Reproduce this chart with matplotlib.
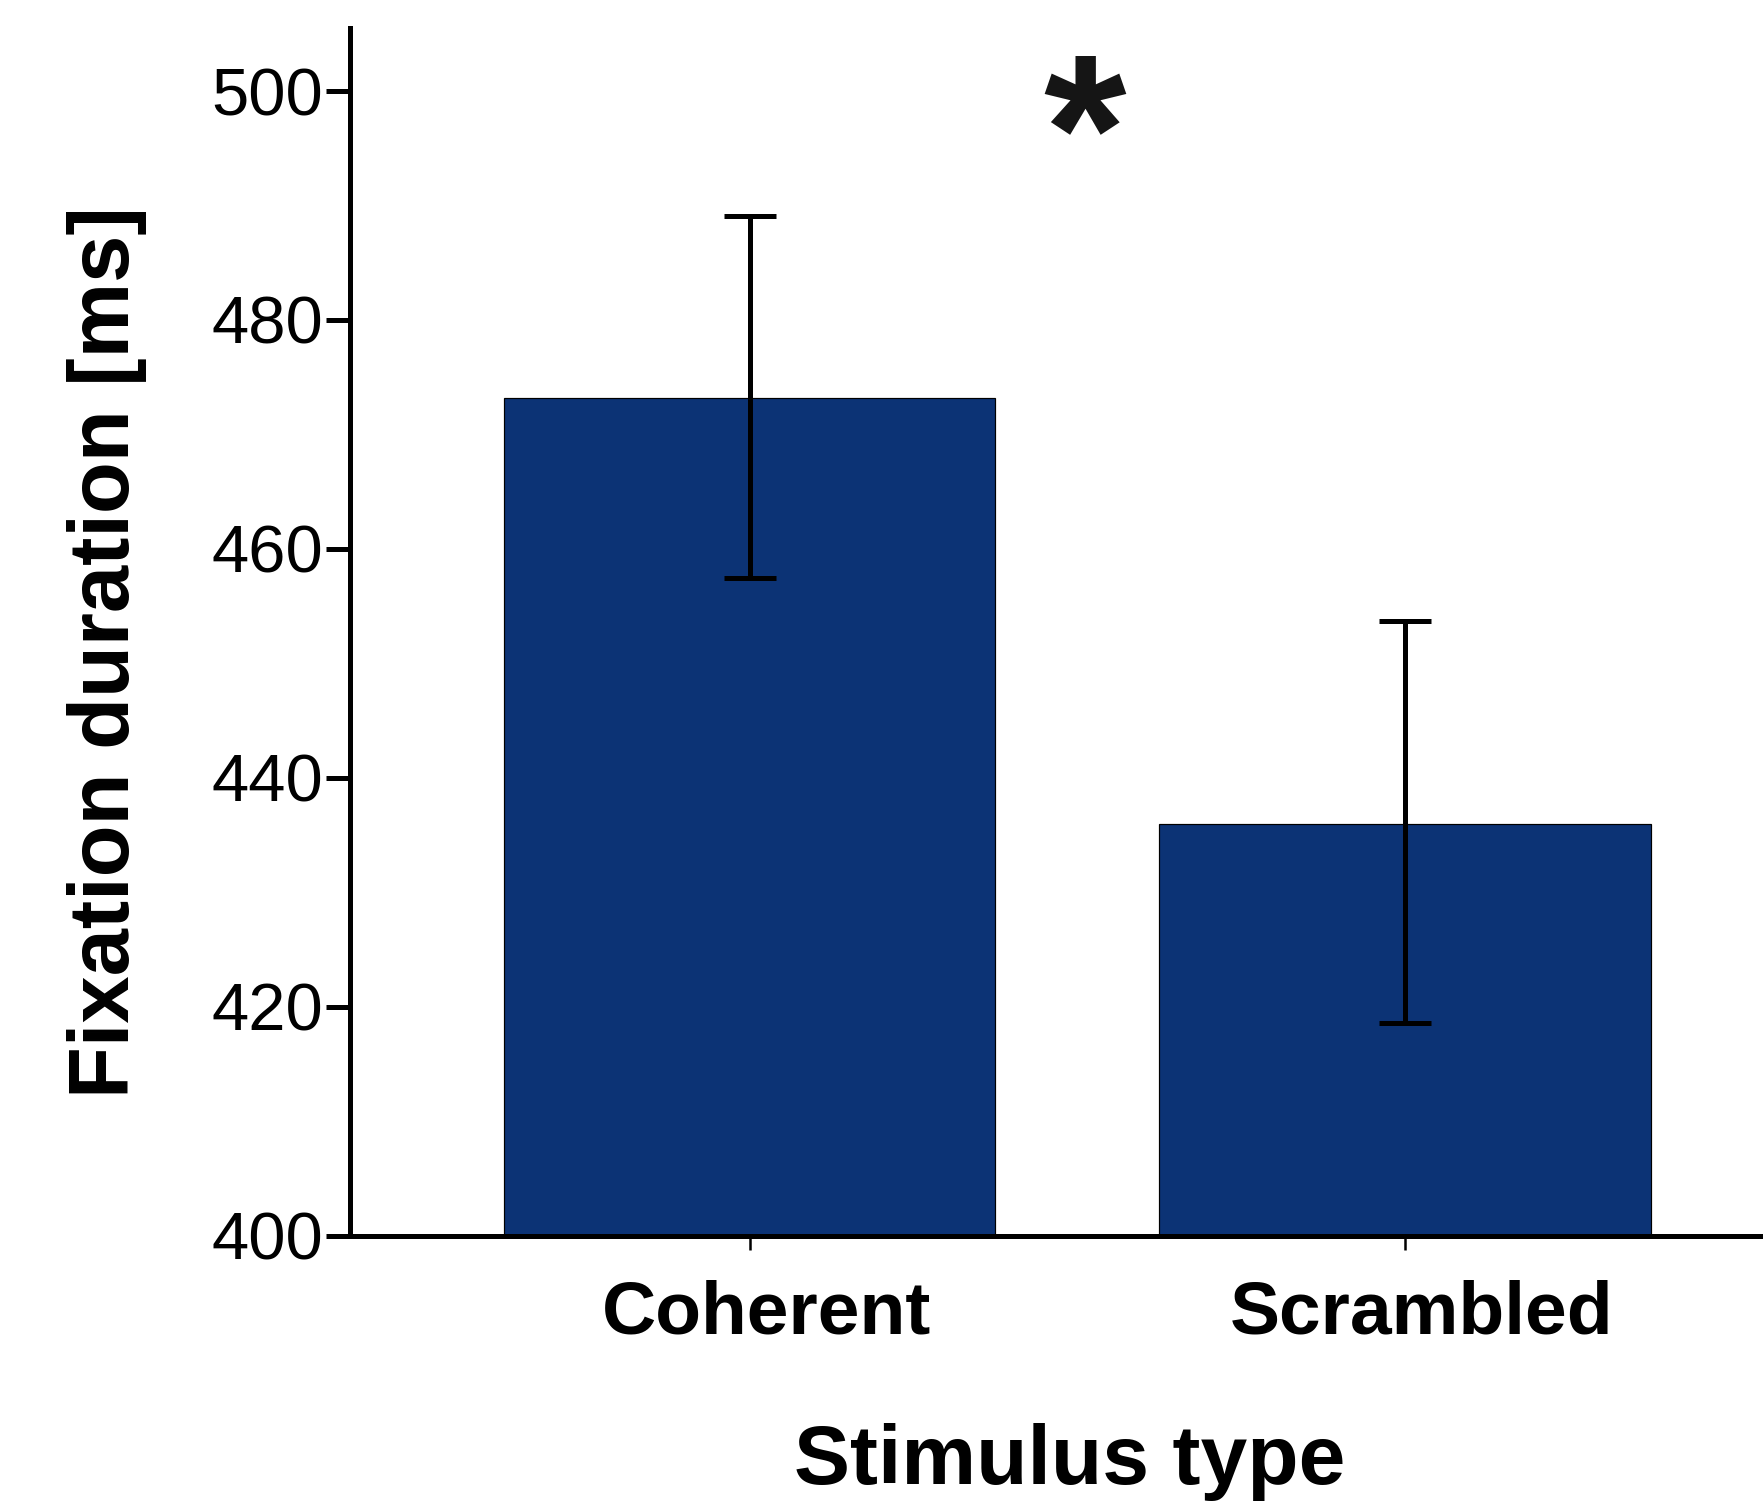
import matplotlib
matplotlib.use("Agg")
import matplotlib.pyplot as plt
from matplotlib.transforms import ScaledTranslation

plt.rcParams["font.family"] = ["Liberation Sans", "DejaVu Sans"]

# data
conditions = ["Coherent", "Scrambled"]
mean_ms = [473.2, 436.0]
err_low = [457.5, 418.6]
err_high = [489.1, 453.7]

bar_color = "#0c3375"

DPI = 72
fig = plt.figure(figsize=(1763 / DPI, 1502 / DPI), dpi=DPI)
ax = fig.add_axes([0.1984, 0.1773, 0.8215, 0.804])

xpos = [1, 2]
lower = [m - lo for m, lo in zip(mean_ms, err_low)]
upper = [hi - m for m, hi in zip(mean_ms, err_high)]

ax.bar(xpos, mean_ms, width=0.75, color=bar_color, edgecolor="black",
       linewidth=1.2, zorder=2)
ax.errorbar(xpos, mean_ms, yerr=[lower, upper], fmt="none", ecolor="black",
            elinewidth=5, capsize=26, capthick=5, zorder=3)

# significance marker
ax.text(1.511, 495.2, "*", ha="center", va="center", fontsize=212,
        fontweight="bold", color="#151515", zorder=4)

ax.set_xlim(0.39, 2.6)
ax.set_ylim(400, 505.5)
ax.set_yticks(range(400, 501, 20))
ax.set_xticks(xpos)
ax.set_xticklabels(conditions, fontsize=75, fontweight="bold")
ax.tick_params(axis="y", labelsize=67, length=24, width=5, pad=3)
ax.tick_params(axis="x", length=14, width=2.5, pad=30)

# the category labels sit a little right of their ticks in the original
shift = ScaledTranslation(17 / DPI, 0, fig.dpi_scale_trans)
for lab in ax.get_xticklabels():
    lab.set_transform(lab.get_transform() + shift)

for side in ["top", "right"]:
    ax.spines[side].set_visible(False)
ax.spines["left"].set_linewidth(5)
ax.spines["bottom"].set_linewidth(5)
ax.spines["left"].set_zorder(5)
ax.spines["bottom"].set_zorder(5)

ax.set_xlabel("Stimulus type", fontsize=84, fontweight="bold", labelpad=74)
ax.set_ylabel("Fixation duration [ms]", fontsize=85, fontweight="bold",
              labelpad=64)
ax.yaxis.label.set_y(0.483)
ax.xaxis.label.set_x(0.497)

fig.savefig("out.png", dpi=DPI)
